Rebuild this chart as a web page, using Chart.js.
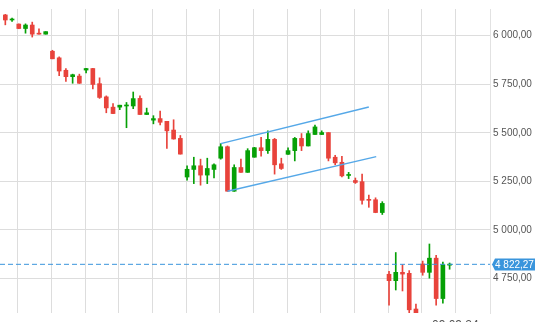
<!DOCTYPE html>
<html>
<head>
<meta charset="utf-8">
<script src="https://cdn.jsdelivr.net/npm/chart.js@4.4.1/dist/chart.umd.min.js"></script>
<style>
  html, body { margin: 0; padding: 0; background: #fff; overflow: hidden; }
  #wrap { width: 536px; height: 322px; }
</style>
</head>
<body>
<div id="wrap"><canvas id="chart" width="536" height="322"></canvas></div>
<script>
// daily candles
const opens = [6107, 6081, 6060, 6037, 6055, 6013, 6008, 5920, 5886, 5822,
  5789, 5792, 5823, 5831, 5753, 5685, 5632, 5632, 5638, 5638,
  5677, 5594, 5565, 5573, 5559, 5514, 5471, 5272, 5311, 5330,
  5282, 5311, 5369, 5428, 5199, 5321, 5296, 5374, 5423, 5408,
  5466, 5340, 5389, 5408, 5471, 5432, 5491, 5491, 5501, 5374,
  5348, 5280, 5254, 5248, 5157, 5155, 5089, 4771, 4738, 4781,
  4776, 4592, 4824, 4781, 4854, 4646, 4818];
const highs = [6110, 6091, 6061, 6061, 6070, 6036, 6021, 5925, 5891, 5831,
  5802, 5802, 5832, 5832, 5783, 5690, 5651, 5642, 5656, 5710,
  5690, 5627, 5588, 5612, 5559, 5567, 5486, 5330, 5374, 5364,
  5369, 5340, 5444, 5432, 5335, 5364, 5418, 5425, 5476, 5510,
  5471, 5369, 5423, 5476, 5496, 5510, 5539, 5510, 5501, 5384,
  5379, 5296, 5267, 5287, 5179, 5165, 5145, 4786, 4883, 4820,
  4790, 4617, 4839, 4927, 4868, 4834, 4829];
const lows = [6056, 6074, 6036, 6013, 5993, 6008, 6008, 5881, 5794, 5765,
  5755, 5754, 5808, 5726, 5677, 5603, 5599, 5619, 5526, 5624,
  5594, 5594, 5546, 5541, 5419, 5467, 5390, 5256, 5238, 5230,
  5238, 5267, 5364, 5198, 5198, 5296, 5296, 5374, 5379, 5394,
  5287, 5311, 5389, 5355, 5408, 5432, 5491, 5491, 5355, 5335,
  5273, 5264, 5239, 5132, 5116, 5088, 5079, 4612, 4690, 4685,
  4555, 4520, 4766, 4751, 4612, 4622, 4797];
const closes = [6081, 6084, 6037, 6055, 6008, 6008, 6021, 5881, 5818, 5789,
  5799, 5755, 5831, 5749, 5682, 5628, 5599, 5642, 5643, 5676,
  5594, 5603, 5573, 5554, 5510, 5468, 5390, 5312, 5330, 5282,
  5316, 5335, 5428, 5199, 5321, 5296, 5408, 5423, 5408, 5466,
  5335, 5316, 5408, 5471, 5432, 5496, 5530, 5501, 5369, 5345,
  5278, 5283, 5244, 5152, 5152, 5089, 5136, 4738, 4781, 4772,
  4588, 4540, 4781, 4854, 4646, 4820, 4822.27];

// channel drawn on the chart: [startIndex, startValue, endIndex, endValue]
const upperChannel = [32.0, 5444, 54.0, 5633];
const lowerChannel = [33.0, 5199, 55.1, 5377];

const lastPrice = 4822.27;

// axes
const yTicks = [4750, 5000, 5250, 5500, 5750, 6000];
const xGridIdx = [2, 7, 12, 17, 22, 27, 32, 37, 42, 47, 52, 57, 62, 67];
const xLabels = ['', '', '', '', '', '', '', '', '', '', '', '', '', '09.09.24'];
const yMin = 4571.5, yMax = 6137.6;
const xMin = -0.79, xMax = 72.0;

const RED = '#e8433b';
const GREEN = '#06a006';
const BLUE = '#3a95dc';
const GRID = '#dddddd';
const FONT = '"Liberation Sans", Arial, sans-serif';

function fmt(v) {
  const [a, b] = v.toFixed(2).split('.');
  return a.replace(/\B(?=(\d{3})+$)/g, ' ') + ',' + b;
}

const idx = opens.map((_, i) => i);
const colors = idx.map(i => closes[i] >= opens[i] ? GREEN : RED);

// blue box with the last price on the right axis
const priceTag = {
  id: 'priceTag',
  afterDraw(chart) {
    const { ctx, chartArea, scales } = chart;
    const py = Math.round(scales.y.getPixelForValue(lastPrice)) + 0.5;
    const x0 = chartArea.right + 2;
    ctx.save();
    ctx.fillStyle = BLUE;
    ctx.beginPath();
    ctx.moveTo(x0, py);
    ctx.lineTo(x0 + 3, py - 6);
    ctx.lineTo(x0 + 43, py - 6);
    ctx.lineTo(x0 + 43, py + 6);
    ctx.lineTo(x0 + 3, py + 6);
    ctx.closePath();
    ctx.fill();
    ctx.fillStyle = '#fff';
    ctx.font = '10px ' + FONT;
    ctx.textBaseline = 'middle';
    ctx.fillText(fmt(lastPrice), x0 + 3, py + 0.5);
    ctx.restore();
  }
};

new Chart(document.getElementById('chart'), {
  type: 'bar',
  data: {
    datasets: [
      {
        // bodies
        data: idx.map(i => ({ x: i, y: [opens[i], closes[i]] })),
        backgroundColor: colors,
        barThickness: 4,
        minBarLength: 1,
        grouped: false,
        order: 2
      },
      {
        // wicks
        data: idx.map(i => ({ x: i, y: [lows[i], highs[i]] })),
        backgroundColor: colors,
        barThickness: 1,
        grouped: false,
        order: 3
      },
      {
        type: 'line',
        data: [{ x: upperChannel[0], y: upperChannel[1] }, { x: upperChannel[2], y: upperChannel[3] }],
        borderColor: '#55a8e8',
        borderWidth: 1.5,
        pointRadius: 0,
        order: 1
      },
      {
        type: 'line',
        data: [{ x: lowerChannel[0], y: lowerChannel[1] }, { x: lowerChannel[2], y: lowerChannel[3] }],
        borderColor: '#55a8e8',
        borderWidth: 1.5,
        pointRadius: 0,
        order: 1
      },
      {
        // last price line
        type: 'line',
        data: [{ x: xMin, y: lastPrice }, { x: xMax, y: lastPrice }],
        borderColor: BLUE,
        borderWidth: 1,
        borderDash: [5, 3],
        pointRadius: 0,
        order: 0
      }
    ]
  },
  options: {
    responsive: false,
    animation: false,
    devicePixelRatio: 1,
    layout: { padding: 0 },
    plugins: { legend: { display: false }, tooltip: { enabled: false } },
    scales: {
      x: {
        type: 'linear',
        min: xMin,
        max: xMax,
        offset: false,
        afterBuildTicks: s => { s.ticks = xGridIdx.map(v => ({ value: v - 0.15 })); },
        afterFit: s => { s.height = 0; },
        grid: { color: GRID, lineWidth: 1, drawTicks: false, offset: false },
        border: { display: false },
        ticks: {
          autoSkip: false,
          maxRotation: 0,
          mirror: true,
          padding: -20,
          color: '#555',
          font: { family: FONT, size: 12 },
          callback: (v, i) => xLabels[i] || ''
        }
      },
      y: {
        position: 'right',
        min: yMin,
        max: yMax,
        afterBuildTicks: s => { s.ticks = yTicks.map(v => ({ value: v })); },
        afterFit: s => { s.width = 46; },
        grid: { color: GRID, lineWidth: 1, drawTicks: false },
        border: { display: true, color: '#e2e2e2' },
        ticks: {
          padding: 3,
          color: '#555',
          font: { family: FONT, size: 10 },
          callback: v => fmt(v)
        }
      }
    }
  },
  plugins: [priceTag]
});
</script>
</body>
</html>
